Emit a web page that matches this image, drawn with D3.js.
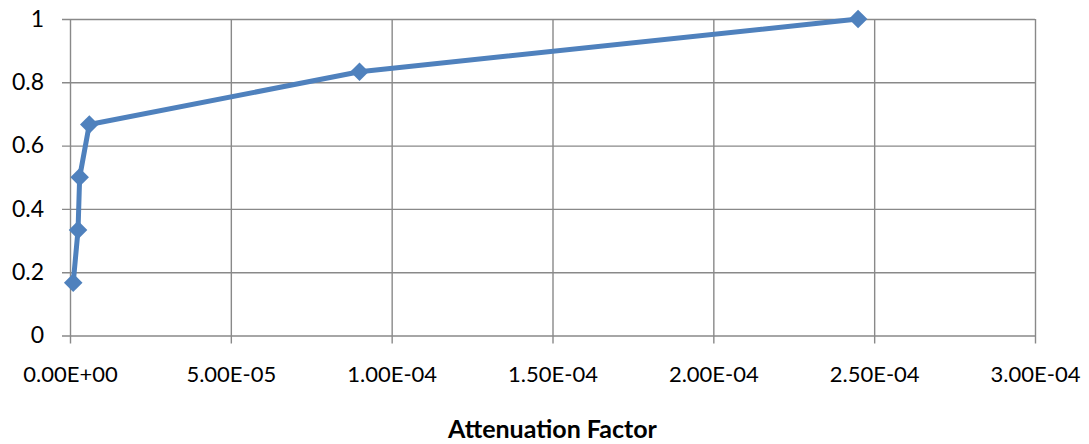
<!DOCTYPE html>
<html>
<head>
<meta charset="utf-8">
<script src="https://cdn.jsdelivr.net/npm/d3@7"></script>
<style>
  html, body { margin: 0; padding: 0; background: #fff; }
  svg text { font-family: Lato, "Open Sans", sans-serif; fill: #000; }
</style>
</head>
<body>
<svg id="chart" width="1089" height="444"></svg>
<script>
// Attenuation factor vs. normalised level
const attenuation = [1.0e-6, 2.5e-6, 3.0e-6, 6.0e-6, 9.0e-5, 2.45e-4];
const level = [1 / 6, 2 / 6, 3 / 6, 4 / 6, 5 / 6, 1];
const xTicks = [0, 5e-5, 1e-4, 1.5e-4, 2e-4, 2.5e-4, 3e-4];
const xTickLabels = ["0.00E+00", "5.00E-05", "1.00E-04", "1.50E-04", "2.00E-04", "2.50E-04", "3.00E-04"];
const yTicks = [0, 0.2, 0.4, 0.6, 0.8, 1];
const yTickLabels = ["0", "0.2", "0.4", "0.6", "0.8", "1"];
const xTitle = "Attenuation Factor";

const svg = d3.select("#chart");
const plot = { left: 70, right: 1035, top: 19, bottom: 335.5 };

const x = d3.scaleLinear().domain([0, 3e-4]).range([plot.left, plot.right]);
const y = d3.scaleLinear().domain([0, 1]).range([plot.bottom, plot.top]);

const gridColor = "#898989";

// Horizontal gridlines with left tick marks
const yAxis = d3.axisLeft(y)
  .tickValues(yTicks)
  .tickFormat((d, i) => yTickLabels[i])
  .tickSize(-(plot.right - plot.left))
  .tickPadding(26);
const gy = svg.append("g").attr("transform", `translate(${plot.left},0)`).call(yAxis);
gy.select(".domain").remove();
gy.selectAll(".tick line").attr("stroke", gridColor).attr("stroke-width", 1.4).attr("x1", -8);
gy.selectAll(".tick text").attr("font-size", 23).attr("font-family", "Lato, sans-serif");

// Vertical gridlines with bottom tick marks
const xAxis = d3.axisBottom(x)
  .tickValues(xTicks)
  .tickFormat((d, i) => xTickLabels[i])
  .tickSize(-(plot.bottom - plot.top))
  .tickPadding(31);
const gx = svg.append("g").attr("transform", `translate(0,${plot.bottom})`).call(xAxis);
gx.select(".domain").remove();
gx.selectAll(".tick line").attr("stroke", gridColor).attr("stroke-width", 1.4).attr("y1", 8);
gx.selectAll(".tick text").attr("font-size", 22).attr("font-family", "Lato, sans-serif");

// Axis title
svg.append("text")
  .attr("x", (plot.left + plot.right) / 2)
  .attr("y", 438)
  .attr("text-anchor", "middle")
  .attr("font-size", 25)
  .attr("font-weight", "bold")
  .text(xTitle);

// Series line
const pts = attenuation.map((a, i) => [a, level[i]]);
const color = "#4f81bd";
svg.append("path")
  .datum(pts)
  .attr("fill", "none")
  .attr("stroke", color)
  .attr("stroke-width", 5)
  .attr("stroke-linejoin", "round")
  .attr("d", d3.line().x(d => x(d[0])).y(d => y(d[1])));

// Diamond markers
const diamond = d3.symbol().type(d3.symbolDiamond2).size(220);
svg.append("g").selectAll("path")
  .data(pts)
  .join("path")
  .attr("d", diamond)
  .attr("transform", d => `translate(${x(d[0])},${y(d[1])})`)
  .attr("fill", color);
</script>
</body>
</html>
